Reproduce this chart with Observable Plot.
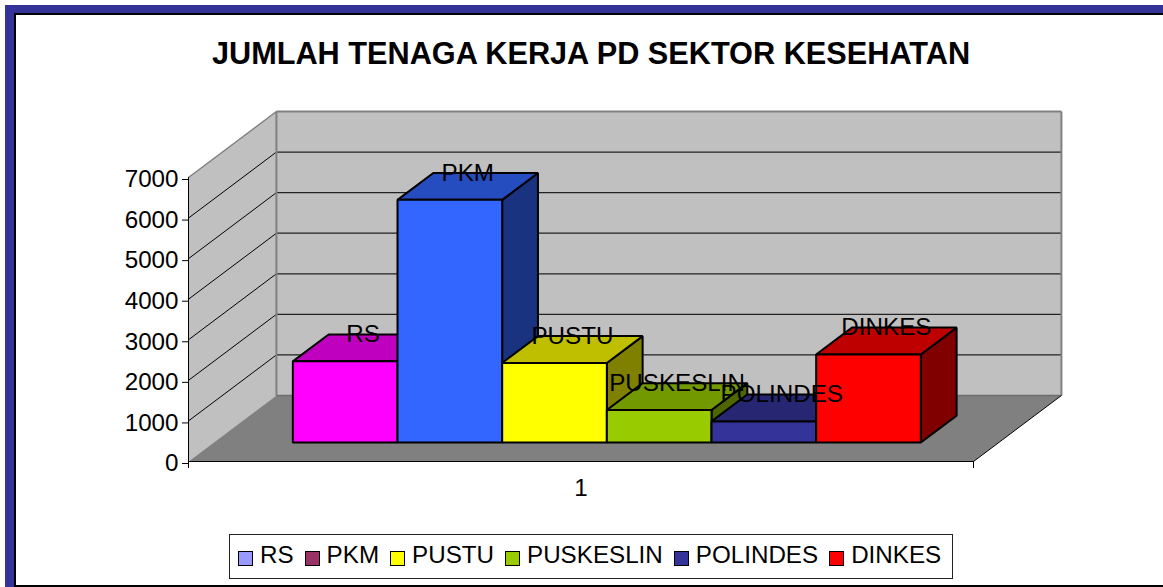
<!DOCTYPE html>
<html>
<head>
<meta charset="utf-8">
<script src="https://cdn.jsdelivr.net/npm/d3@7"></script>
<script src="https://cdn.jsdelivr.net/npm/@observablehq/plot@0.6"></script>
<style>
  html, body { margin: 0; padding: 0; background: #fff; overflow: hidden; }
  body { width: 1163px; height: 587px; position: relative; font-family: "Liberation Sans", Arial, sans-serif; color: #000; }
  #band { position: absolute; left: 5px; top: 5px; right: 0; bottom: 0; background: #333399; }
  #frame { position: absolute; left: 14px; top: 13px; right: 0; bottom: 0; background: #fff;
           border-left: 2px solid #000; border-top: 2px solid #000; border-bottom: 2px solid #000; box-sizing: border-box; }
  #title { position: absolute; left: 0; width: 1182px; top: 37px; text-align: center; font-size: 30.7px; font-weight: bold; line-height: 34px; white-space: nowrap; }
  #chart { position: absolute; left: 0; top: 0; }
  #chart svg { display: block; }
  #legend { position: absolute; left: 229px; top: 534px; width: 724px; height: 45px; box-sizing: border-box; border: 1px solid #222; background: #fff;
            display: flex; align-items: center; padding-left: 8px; padding-bottom: 4px; font-size: 24.2px; white-space: nowrap; }
  .swatch { width: 15px; height: 15px; box-sizing: border-box; border: 1.5px solid #000; margin-right: 7px; flex: none; margin-top: 7px; }
  .entry { display: flex; align-items: center; margin-right: 11px; }
</style>
</head>
<body>
<div id="band"></div>
<div id="frame"></div>
<div id="chart"></div>
<div id="title"></div>
<div id="legend"></div>
<script>
const titleText = "JUMLAH TENAGA KERJA PD SEKTOR KESEHATAN";
const categories = ["RS", "PKM", "PUSTU", "PUSKESLIN", "POLINDES", "DINKES"];
const values = [2000, 5980, 1960, 800, 520, 2170];
const frontColors = ["#ff00ff", "#3366ff", "#ffff00", "#99cc00", "#333399", "#ff0000"];
const topColors = ["#bf00bf", "#264dbf", "#bfbf00", "#739900", "#262673", "#bf0000"];
const sideColors = ["#800080", "#193380", "#808000", "#4d6600", "#19194d", "#800000"];
const legendColors = ["#9999ff", "#993366", "#ffff00", "#99cc00", "#333399", "#ff0000"];
const yTicks = [0, 1000, 2000, 3000, 4000, 5000, 6000, 7000];
const xLabels = ["1"];

// Oblique 3D projection expressed in data units
const floorWidth = 7.5, yMax = 7000;
const skewX = 0.84, skewY = 1627;
const barStart = 0.755, barDepthFront = 0.288, barDepthBack = 0.695;
const P = (u, v, d) => ({x: u + d * skewX, y: v + d * skewY});

const poly = (pts, fill, stroke, strokeWidth) =>
  Plot.line(pts, {x: "x", y: "y", curve: "linear-closed", fill, stroke, strokeWidth, strokeLinejoin: "miter", strokeLinecap: "butt"});
const seg = (pts, stroke, strokeWidth) =>
  Plot.line(pts, {x: "x", y: "y", stroke, strokeWidth, strokeLinecap: "butt"});

const marks = [];
// walls and floor
marks.push(poly([P(0, 0, 0), P(0, yMax, 0), P(0, yMax, 1), P(0, 0, 1)], "#c0c0c0", "none", 0));
marks.push(poly([P(0, 0, 1), P(0, yMax, 1), P(floorWidth, yMax, 1), P(floorWidth, 0, 1)], "#c0c0c0", "none", 0));
marks.push(poly([P(0, 0, 0), P(floorWidth, 0, 0), P(floorWidth, 0, 1), P(0, 0, 1)], "#808080", "none", 0));
// gridlines
for (const v of yTicks.slice(1, -1)) {
  marks.push(seg([P(0, v, 0), P(0, v, 1)], "#000", 1));
  marks.push(seg([P(0, v, 1), P(floorWidth, v, 1)], "#222", 1.2));
}
// wall edges
marks.push(seg([P(0, yMax, 0), P(0, yMax, 1)], "#808080", 1.5));
marks.push(seg([P(0, yMax, 1), P(floorWidth, yMax, 1)], "#808080", 2));
marks.push(seg([P(0, 0, 1), P(0, yMax, 1)], "#808080", 2));
marks.push(seg([P(floorWidth, 0, 1), P(floorWidth, yMax, 1)], "#808080", 2));
marks.push(seg([P(0, 0, 1), P(floorWidth, 0, 1)], "#6e6e6e", 1.5));
marks.push(seg([P(floorWidth, 0, 0), P(floorWidth, 0, 1)], "#000", 1));
// bars
categories.forEach((c, i) => {
  const u0 = barStart + i, u1 = u0 + 1, v = values[i], df = barDepthFront, db = barDepthBack;
  marks.push(poly([P(u1, 0, df), P(u1, 0, db), P(u1, v, db), P(u1, v, df)], sideColors[i], "#000", 2));
  marks.push(poly([P(u0, v, df), P(u1, v, df), P(u1, v, db), P(u0, v, db)], topColors[i], "#000", 2));
  marks.push(poly([P(u0, 0, df), P(u1, 0, df), P(u1, v, df), P(u0, v, df)], frontColors[i], "#000", 2));
});
// data labels: centred on the bar, at the top of its back edge
const labels = categories.map((c, i) => ({
  text: c,
  x: P(barStart + i + 0.5, 0, (barDepthFront + barDepthBack) / 2).x,
  y: P(0, values[i], barDepthBack).y
}));
marks.push(Plot.text(labels, {x: "x", y: "y", text: "text", fontSize: 24.2, fill: "#000", textAnchor: "middle", lineAnchor: "middle"}));
// axes
marks.push(Plot.ruleX([0], {stroke: "#000", strokeWidth: 1}));
marks.push(Plot.ruleY([0], {stroke: "#000", strokeWidth: 1.2}));
marks.push(Plot.axisY({ticks: yTicks, tickSize: 6, tickPadding: 4, fontSize: 24.2, dy: 2, stroke: "#000", label: null, tickFormat: d => String(d)}));
marks.push(Plot.axisX({ticks: [0, floorWidth], tickSize: 7, text: null, stroke: "#000", label: null}));
marks.push(Plot.axisX({ticks: [floorWidth / 2], tickSize: 0, tickPadding: 17, fontSize: 24.2, label: null, tickFormat: () => xLabels[0]}));

const chart = Plot.plot({
  width: 1163,
  height: 587,
  marginLeft: 188,
  marginRight: 190,
  marginTop: 177,
  marginBottom: 126,
  x: {domain: [0, floorWidth]},
  y: {domain: [0, yMax]},
  style: {background: "transparent", fontFamily: "'Liberation Sans', Arial, sans-serif", color: "#000", overflow: "visible"},
  marks
});
document.getElementById("chart").appendChild(chart);

document.getElementById("title").textContent = titleText;
const legend = document.getElementById("legend");
categories.forEach((c, i) => {
  const e = document.createElement("div"); e.className = "entry";
  const s = document.createElement("div"); s.className = "swatch"; s.style.background = legendColors[i];
  const t = document.createElement("span"); t.textContent = c;
  e.append(s, t); legend.append(e);
});
</script>
</body>
</html>
